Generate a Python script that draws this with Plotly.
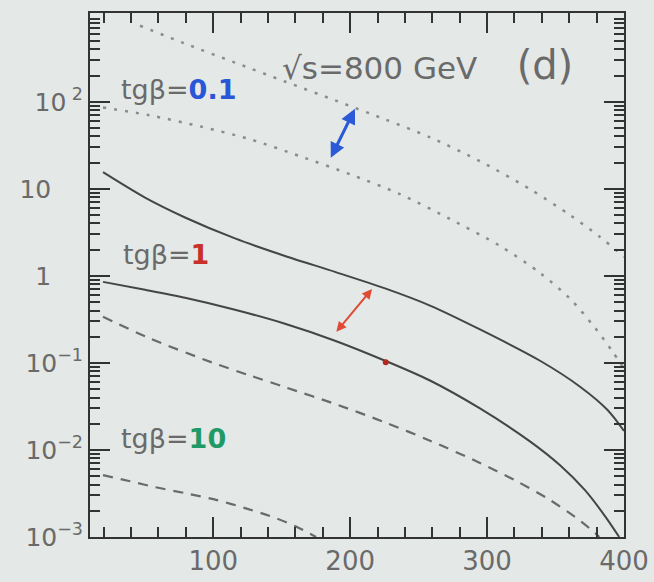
import plotly.graph_objects as go

# ---- data ----
dot_hi_x = [46.5, 79.4, 115.9, 152.4, 188.9, 225.5, 258.3, 294.8, 331.3, 360.6, 382.5, 400]
dot_hi_y = [748, 466, 282, 171, 104, 62.8, 39.1, 20.8, 9.91, 5.00, 2.80, 1.65]

dot_lo_x = [19.5, 53.8, 90.3, 126.9, 163.4, 199.9, 236.4, 272.9, 309.4, 338.7, 360.6, 378.8, 391.2, 400]
dot_lo_y = [86.1, 69.8, 52.2, 37.1, 23.7, 14.7, 8.69, 4.50, 2.21, 1.08, 0.546, 0.254, 0.138, 0.086]

sol_hi_x = [19.5, 50.2, 79.4, 115.9, 152.4, 188.9, 225.5, 258.3, 294.8, 338.7, 367.9, 388.0, 400]
sol_hi_y = [15.52, 7.925, 4.688, 2.692, 1.694, 1.112, 0.7178, 0.4560, 0.2427, 0.1059, 0.05333, 0.0288, 0.01656]

sol_lo_x = [19.5, 50.2, 79.4, 115.9, 152.4, 188.9, 225.5, 258.3, 294.8, 331.3, 353.3, 371.5, 386.1, 396.5]
sol_lo_y = [0.853, 0.692, 0.560, 0.408, 0.282, 0.180, 0.106, 0.0628, 0.0300, 0.01256, 0.00667, 0.00345, 0.00174, 0.001]

das_hi_x = [19.5, 53.8, 99.1, 126.9, 152.4, 188.9, 225.5, 258.3, 294.8, 320.4, 343.8, 364.2, 377.4, 382.0]
das_hi_y = [0.3396, 0.1910, 0.1012, 0.0716, 0.0527, 0.0338, 0.02075, 0.01279, 0.00710, 0.00448, 0.00279, 0.00170, 0.001164, 0.001]

das_lo_x = [19.5, 39.2, 57.5, 79.4, 102.8, 123.2, 141.5, 159.7, 175.1]
das_lo_y = [0.00513, 0.004375, 0.003741, 0.003192, 0.002655, 0.002148, 0.001738, 0.001337, 0.001]

dot_pt_x = [226]
dot_pt_y = [0.102]

x_ticks = [100, 200, 300, 400]
y_tickvals = [1e-3, 1e-2, 1e-1, 1, 10, 100]
NB = "\u00a0"
y_ticktext = ["10<sup>−3</sup>", "10<sup>−2</sup>", "10<sup>−1</sup>", "1" + NB * 4, "10" + NB * 4, "10<sup> 2</sup>"]

BG = "#e4e8e6"
GRAY = "#6a6a6a"
FONT = "DejaVu Sans"

fig = go.Figure()

def line(x, y, color, dash, width=2):
    fig.add_trace(go.Scatter(x=x, y=y, mode="lines",
                             line=dict(color=color, width=width, dash=dash, shape="spline", smoothing=0.8),
                             showlegend=False, hoverinfo="skip"))

line(dot_hi_x, dot_hi_y, "#8c8c8c", "3px,8px", 2.5)
line(dot_lo_x, dot_lo_y, "#8c8c8c", "3px,8px", 2.5)
line(sol_hi_x, sol_hi_y, "#454545", "solid", 2)
line(sol_lo_x, sol_lo_y, "#454545", "solid", 2)
line(das_hi_x, das_hi_y, "#6a6a6a", "10px,8px", 2.2)
line(das_lo_x, das_lo_y, "#6a6a6a", "10px,8px", 2.2)

fig.add_trace(go.Scatter(x=dot_pt_x, y=dot_pt_y, mode="markers",
                         marker=dict(color="#b02a20", size=6), showlegend=False, hoverinfo="skip"))

minor_vals = [m * 10 ** e for e in range(-3, 3) for m in range(2, 10)]

fig.update_layout(
    width=654, height=582,
    margin=dict(l=90, r=30, t=13, b=45, autoexpand=False),
    paper_bgcolor=BG, plot_bgcolor=BG,
    font=dict(family=FONT, color=GRAY, size=25),
    xaxis=dict(range=[10, 400], tickvals=x_ticks, ticks="inside", ticklen=20, tickwidth=1.5,
               tickcolor="#333", showline=True, linecolor="#333", linewidth=2, mirror="ticks",
               showgrid=False, zeroline=False, ticklabelstandoff=0, automargin=False,
               minor=dict(ticks="inside", ticklen=10, tickcolor="#333", dtick=20, tick0=0, showgrid=False),
               tickfont=dict(size=26, color=GRAY, family=FONT)),
    yaxis=dict(type="log", range=[-3, 3.02], tickvals=y_tickvals, ticktext=y_ticktext,
               ticks="inside", ticklen=20, tickwidth=1.5, tickcolor="#333",
               showline=True, linecolor="#333", linewidth=2, mirror="ticks",
               showgrid=False, zeroline=False, automargin=False,
               minor=dict(ticks="inside", ticklen=10, tickcolor="#333", tickvals=minor_vals, showgrid=False),
               tickfont=dict(size=25, color=GRAY, family=FONT)),
)

def label(x, logy, text, size=27):
    fig.add_annotation(x=x, y=logy, xref="x", yref="y", text=text, showarrow=False,
                       xanchor="left", yanchor="middle",
                       font=dict(family=FONT, size=size, color=GRAY))

label(31.5, 2.14, "tgβ=<span style='color:#2856d6'><b>0.1</b></span>")
label(33.0, 0.25, "tgβ=<span style='color:#c8302a'><b>1</b></span>")
label(31.5, -1.87, "tgβ=<span style='color:#1f9a66'><b>10</b></span>")
label(149.0, 2.42, "√s=800 GeV" + NB * 4 + "<span style='font-size:40px'>(d)</span>", size=31)

# double arrows
fig.add_annotation(x=203.5, y=1.92, ax=185.3, ay=1.34, xref="x", yref="y", axref="x", ayref="y",
                   showarrow=True, arrowside="end+start", arrowhead=2, arrowsize=1, arrowwidth=3,
                   arrowcolor="#2a5ad8", text="")
fig.add_annotation(x=216.0, y=-0.15, ax=189.0, ay=-0.66, xref="x", yref="y", axref="x", ayref="y",
                   showarrow=True, arrowside="end+start", arrowhead=2, arrowsize=1, arrowwidth=2,
                   arrowcolor="#e04a35", text="")

fig.write_html("out.html")
